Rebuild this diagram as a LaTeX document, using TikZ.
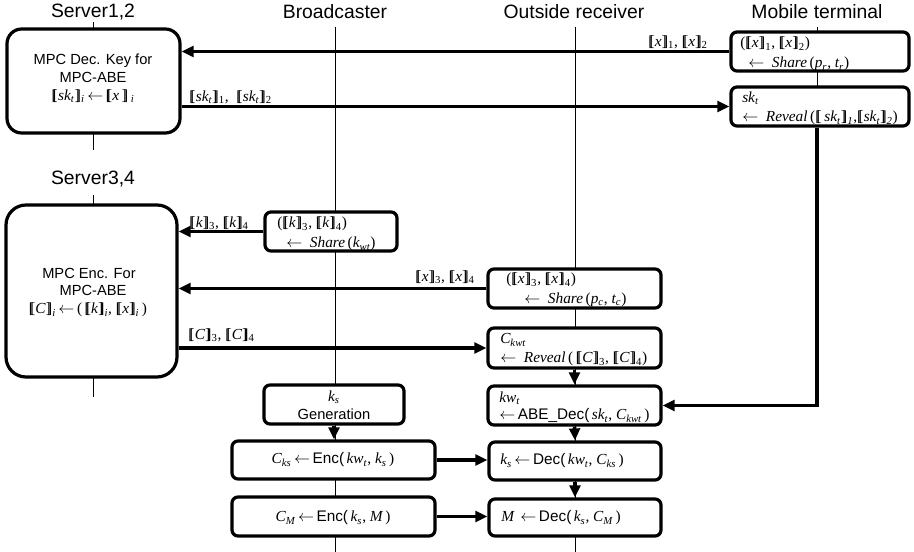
\documentclass[tikz,border=0pt]{standalone}
\usepackage{fontspec}
\setmainfont{Liberation Sans}
\newfontfamily\sr{Liberation Serif}
\usetikzlibrary{arrows.meta}
\newcommand\lbk{{\sr[\kern-0.24em[}}
\newcommand\rbk{{\sr]\kern-0.24em]}}
\newcommand\mi[1]{{\sr\itshape #1}}
\newcommand\sbi[1]{\textsubscript{\sr\itshape #1}}
\newcommand\sbu[1]{\textsubscript{\sr #1}}
\newcommand\la{\,$\leftarrow$\,}
\newcommand\sn[1]{{\rmfamily #1}}
\begin{document}
\begin{tikzpicture}[x=0.75pt,y=-0.75pt,
 box/.style={draw,line width=2.4pt,rounded corners=4.5pt,fill=white,inner sep=0pt},
 arr/.style={line width=2.6pt,-{Triangle[length=9pt,width=8pt]}},
 life/.style={line width=0.75pt},
 hdr/.style={font=\fontsize{14.5}{16}\selectfont, inner sep=0pt},
 sans/.style={font=\fontsize{11}{12.4}\selectfont, inner sep=0pt},
 ser/.style={font=\fontsize{11.5}{13}\selectfont\sr, inner sep=0pt}]
\useasboundingbox (0,0) rectangle (914,552);
% headers
\node[hdr] (h1) at (93,12) {Server1,2};
\node[hdr] (h2) at (335,12) {Broadcaster};
\node[hdr] (h3) at (574,12) {Outside receiver};
\node[hdr] (h4) at (817,12) {Mobile terminal};
\node[hdr] (h5) at (93,179) {Server3,4};
% lifelines
\coordinate (l1a) at (93,22); \coordinate (l1b) at (93,150);
\coordinate (l2a) at (335,27); \coordinate (l2b) at (335,552);
\coordinate (l3a) at (575,27); \coordinate (l3b) at (575,552);
\coordinate (l4a) at (817,27); \coordinate (l4b) at (817,90);
\coordinate (l5a) at (93,195); \coordinate (l5b) at (93,397);
\draw[life] (l1a) -- (l1b);
\draw[life] (l2a) -- (l2b);
\draw[life] (l3a) -- (l3b);
\draw[life] (l4a) -- (l4b);
\draw[life] (l5a) -- (l5b);
% boxes
\node[box,rounded corners=11pt,minimum width={173*0.75pt},minimum height={104*0.75pt}] (s12) at (93.5,81) {};
\node[box,rounded corners=15pt,minimum width={171*0.75pt},minimum height={172*0.75pt}] (s34) at (91.5,291) {};
\node[box,minimum width={178*0.75pt},minimum height={39*0.75pt}] (m1) at (820,51.5) {};
\node[box,minimum width={178*0.75pt},minimum height={39*0.75pt}] (m2) at (820,106.5) {};
\node[box,minimum width={132*0.75pt},minimum height={39*0.75pt}] (bs) at (331,231.5) {};
\node[box,minimum width={173*0.75pt},minimum height={39*0.75pt}] (os) at (574.5,288.5) {};
\node[box,minimum width={173*0.75pt},minimum height={40*0.75pt}] (rv) at (574.5,348) {};
\node[box,minimum width={173*0.75pt},minimum height={39*0.75pt}] (kw) at (574.5,405.5) {};
\node[box,minimum width={140*0.75pt},minimum height={39*0.75pt}] (gen) at (334,404.5) {};
\node[box,minimum width={203*0.75pt},minimum height={38*0.75pt}] (enc) at (333.5,460) {};
\node[box,minimum width={172*0.75pt},minimum height={38*0.75pt}] (dec) at (575,461) {};
\node[box,minimum width={203*0.75pt},minimum height={39*0.75pt}] (cm) at (333.5,516.5) {};
\node[box,minimum width={172*0.75pt},minimum height={37*0.75pt}] (md) at (575,517.5) {};
% box texts
\node[sans] (a1) at (93,61) {MPC Dec. Key for};
\node[sans] (a2) at (93,77.5) {MPC-ABE};
\node[ser] (a3) at (93,96) {\lbk\mi{sk}\sbi{t}\rbk\sbi{i}\la\lbk\mi{x}\,\rbk\,\sbi{i}};
\node[sans] (b1) at (89,273) {MPC Enc. For};
\node[sans] (b2) at (93,290.5) {MPC-ABE};
\node[ser] (b3) at (88,310) {\lbk\mi{C}\rbk\sbi{i}\la(\,\lbk\mi{k}\rbk\sbi{i}, \lbk\mi{x}\rbk\sbi{i}\,)};
\node[ser,anchor=west] (c1) at (740,44) {(\lbk\mi{x}\rbk\sbu{1}, \lbk\mi{x}\rbk\sbu{2})};
\node[ser,anchor=west] (c2) at (748,64) {$\leftarrow$\ \ \mi{Share}\,(\mi{p}\sbi{r}, \mi{t}\sbi{r})};
\node[ser,anchor=west] (d1) at (742,98) {\mi{sk}\sbi{t}};
\node[ser,anchor=west] (d2) at (742,118) {$\leftarrow$\ \ \mi{Reveal}\,(\lbk\,\mi{sk}\sbi{t}\rbk\sbi{1},\lbk\mi{sk}\sbi{t}\rbk\sbi{2})};
\node[ser,anchor=west] (e1) at (277,224) {(\lbk\mi{k}\rbk\sbu{3}, \lbk\mi{k}\rbk\sbu{4})};
\node[ser,anchor=west] (e2) at (286,244) {$\leftarrow$\ \ \mi{Share}\,(\mi{k}\sbi{wt})};
\node[ser,anchor=west] (f1) at (506,280) {(\lbk\mi{x}\rbk\sbu{3}, \lbk\mi{x}\rbk\sbu{4})};
\node[ser,anchor=west] (f2) at (524,299.5) {$\leftarrow$\ \ \mi{Share}\,(\mi{p}\sbi{c}, \mi{t}\sbi{c})};
\node[ser,anchor=west] (g1) at (500,340) {\mi{C}\sbi{kwt}};
\node[ser,anchor=west] (g2) at (500,359) {$\leftarrow$\ \ \mi{Reveal}\,(\,\lbk\mi{C}\rbk\sbu{3}, \lbk\mi{C}\rbk\sbu{4})};
\node[ser,anchor=west] (k1) at (499,398) {\mi{kw}\sbi{t}};
\node[ser,anchor=west] (k2) at (499,416) {$\leftarrow$\,\sn{ABE\_Dec(}\,\mi{sk}\sbi{t}, \mi{C}\sbi{kwt}\,)};
\node[ser] (n1) at (334,397) {\mi{k}\sbi{s}};
\node[sans] (n2) at (334,414) {Generation};
\node[ser] (p1) at (333,460) {\mi{C}\sbi{ks}\la\sn{Enc(}\,\mi{kw}\sbi{t}, \mi{k}\sbi{s}\,)};
\node[ser,anchor=west] (q1) at (500,461) {\mi{k}\sbi{s}\la\sn{Dec(}\,\mi{kw}\sbi{t}, \mi{C}\sbi{ks}\,)};
\node[ser] (r1) at (333,518) {\mi{C}\sbi{M}\la\sn{Enc(}\,\mi{k}\sbi{s}, \mi{M}\,)};
\node[ser,anchor=west] (u1) at (501,518) {\mi{M}\ \la\sn{Dec(}\,\mi{k}\sbi{s}, \mi{C}\sbi{M}\,)};
% arrow labels
\node[ser,anchor=west] (x1) at (648,42) {\lbk\mi{x}\rbk\sbu{1}, \lbk\mi{x}\rbk\sbu{2}};
\node[ser,anchor=west] (x2) at (189,97) {\lbk\mi{sk}\sbi{t}\rbk\sbu{1}, \ \lbk\mi{sk}\sbi{t}\rbk\sbu{2}};
\node[ser,anchor=west] (x3) at (189,223) {\lbk\mi{k}\rbk\sbu{3}, \lbk\mi{k}\rbk\sbu{4}};
\node[ser,anchor=west] (x4) at (415,277) {\lbk\mi{x}\rbk\sbu{3}, \lbk\mi{x}\rbk\sbu{4}};
\node[ser,anchor=west] (x5) at (188,335) {\lbk\mi{C}\rbk\sbu{3}, \lbk\mi{C}\rbk\sbu{4}};
% arrows
\draw[arr] (m1.west) -- (m1.west -| s12.east);
\draw[arr] (s12.east |- m2.west) -- (m2.west);
\draw[arr] (bs.west) -- (bs.west -| s34.east);
\draw[arr] (os.west) -- (os.west -| s34.east);
\draw[arr] (s34.east |- rv.west) -- (rv.west);
\draw[arr] (rv.south) -- (kw.north);
\draw[arr] ([xshift=-2.25pt]m2.south) |- (kw.east);
\draw[arr] (kw.south) -- (dec.north);
\draw[arr] (dec.south) -- (md.north);
\draw[arr] (gen.south) -- (gen.south |- enc.north);
\draw[arr] (enc.east) -- (enc.east -| dec.west);
\draw[arr] (cm.east) -- (cm.east -| md.west);
\end{tikzpicture}
\end{document}
